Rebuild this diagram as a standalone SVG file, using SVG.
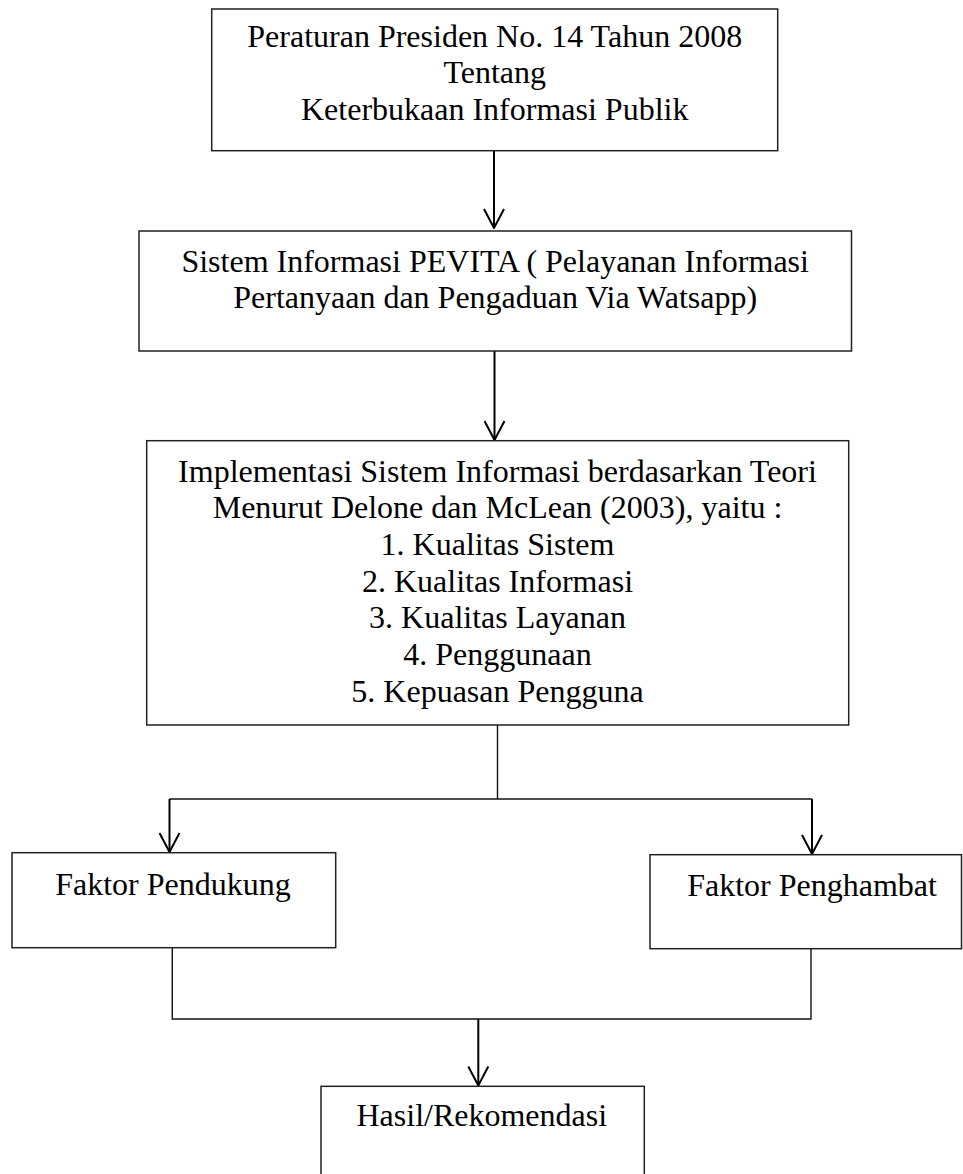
<svg xmlns="http://www.w3.org/2000/svg" width="963" height="1174" viewBox="0 0 963 1174">
<style>
.box{fill:#fff;stroke:#222;stroke-width:1.5}
.t{font-family:"Liberation Serif","Times New Roman",serif;font-size:32px;fill:#000;text-anchor:middle}
.ln{fill:none;stroke:#111;stroke-width:1.4}
.ar{fill:none;stroke:#000;stroke-width:2}
</style>
<defs>
<marker id="head" markerUnits="userSpaceOnUse" viewBox="-21 -11 22 22" refX="0" refY="0" markerWidth="22" markerHeight="22" orient="auto">
<path d="M-19,-10 L0,0 L-19,10" fill="none" stroke="#000" stroke-width="2"/>
</marker>
</defs>
<rect width="963" height="1174" fill="#fff"/>
<g id="connectors">
<path class="ar" d="M494 151 V228" marker-end="url(#head)"/>
<path class="ar" d="M494.5 351 V440" marker-end="url(#head)"/>
<path class="ln" d="M497.5 725 V799"/>
<path class="ln" d="M169.5 799 H812"/>
<path class="ar" d="M169.5 799 V852" marker-end="url(#head)"/>
<path class="ar" d="M812 799 V854" marker-end="url(#head)"/>
<path class="ln" d="M172.3 948 V1019 H811 V949"/>
<path class="ar" d="M478.3 1019 V1085.5" marker-end="url(#head)"/>
</g>
<g id="n1">
<rect class="box" x="211.7" y="9" width="566" height="141.7"/>
<text class="t" x="494.7" y="46.7">Peraturan Presiden No. 14 Tahun 2008</text>
<text class="t" x="494.7" y="83.4">Tentang</text>
<text class="t" x="494.7" y="120">Keterbukaan Informasi Publik</text>
</g>
<g id="n2">
<rect class="box" x="139" y="231" width="712.5" height="120"/>
<text class="t" x="495.2" y="271.7">Sistem Informasi PEVITA ( Pelayanan Informasi</text>
<text class="t" x="495.2" y="308.3">Pertanyaan dan Pengaduan Via Watsapp)</text>
</g>
<g id="n3">
<rect class="box" x="146.7" y="440.7" width="702" height="284.3"/>
<text class="t" x="497.5" y="481.7">Implementasi Sistem Informasi berdasarkan Teori</text>
<text class="t" x="497.5" y="518.4">Menurut Delone dan McLean (2003), yaitu :</text>
<text class="t" x="497.5" y="555">1. Kualitas Sistem</text>
<text class="t" x="497.5" y="591.7">2. Kualitas Informasi</text>
<text class="t" x="497.5" y="628.4">3. Kualitas Layanan</text>
<text class="t" x="497.5" y="665">4. Penggunaan</text>
<text class="t" x="497.5" y="701.7">5. Kepuasan Pengguna</text>
</g>
<g id="n4">
<rect class="box" x="12" y="852.7" width="323.7" height="95"/>
<text class="t" x="173" y="895">Faktor Pendukung</text>
</g>
<g id="n5">
<rect class="box" x="650" y="854.7" width="311.5" height="94"/>
<text class="t" x="812" y="896">Faktor Penghambat</text>
</g>
<g id="n6">
<rect class="box" x="321" y="1086.3" width="323.3" height="110"/>
<text class="t" x="481.8" y="1126">Hasil/Rekomendasi</text>
</g>
</svg>
